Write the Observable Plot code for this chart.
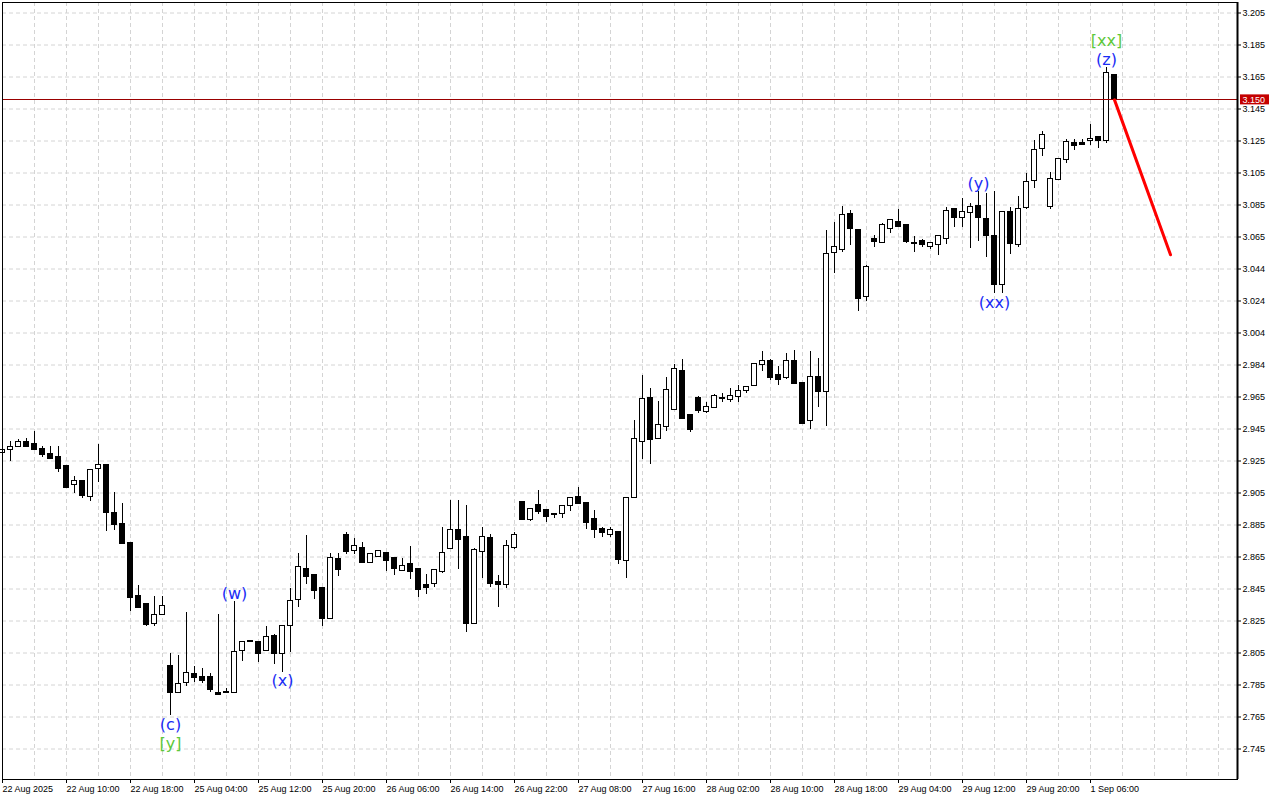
<!DOCTYPE html>
<html><head><meta charset="utf-8">
<script src="https://cdn.jsdelivr.net/npm/d3@7"></script>
<script src="https://cdn.jsdelivr.net/npm/@observablehq/plot@0.6"></script>
<style>html,body{margin:0;padding:0;background:#fff;} #chart svg{display:block}</style>
</head><body><div id="chart"></div>
<script>
const open = [2.9305,2.9320,2.9339,2.9366,2.9353,2.9322,2.9291,2.9272,2.9216,2.9101,
2.9122,2.9030,2.9201,2.9220,2.8920,2.8853,2.8736,2.8403,2.8353,2.8232,
2.8289,2.7966,2.7801,2.7864,2.7914,2.7895,2.7895,2.7797,2.7801,2.7801,
2.8064,2.8122,2.8118,2.8064,2.8151,2.8045,2.8220,2.8383,2.8570,2.8533,
2.8453,2.8268,2.8633,2.8783,2.8689,2.8701,2.8614,2.8651,2.8672,2.8639,
2.8568,2.8601,2.8570,2.8470,2.8483,2.8561,2.8701,2.8814,2.8770,2.8232,
2.8683,2.8764,2.8489,2.8480,2.8711,2.8989,2.8886,2.8970,2.8939,2.8914,
2.8920,2.8970,2.9020,2.8983,2.8883,2.8822,2.8789,2.8801,2.8628,2.9020,
2.9370,2.9639,2.9389,2.9464,2.9570,2.9808,2.9533,2.9639,2.9561,2.9586,
2.9639,2.9633,2.9651,2.9689,2.9722,2.9851,2.9870,2.9783,2.9770,2.9870,
2.9734,2.9501,2.9770,2.9686,3.0551,3.0570,3.0789,3.0689,3.0280,3.0633,
3.0616,3.0703,3.0739,3.0722,3.0609,3.0620,3.0589,3.0601,3.0639,3.0820,
3.0770,3.0801,3.0839,3.0758,3.0651,3.0351,3.0806,3.0601,3.0833,3.1001,
3.1201,3.0839,3.1008,3.1133,3.1233,3.1236,3.1251,3.1270,3.1251,3.1657];
const high = [2.9325,2.9372,2.9384,2.9389,2.9434,2.9341,2.9341,2.9341,2.9222,2.9153,
2.9122,2.9189,2.9353,2.9220,2.9053,2.8984,2.8736,2.8472,2.8353,2.8405,
2.8405,2.8049,2.8032,2.8303,2.7966,2.7953,2.7920,2.8291,2.7830,2.8372,
2.8118,2.8122,2.8118,2.8218,2.8166,2.8214,2.8453,2.8672,2.8786,2.8541,
2.8453,2.8672,2.8670,2.8803,2.8766,2.8739,2.8664,2.8689,2.8672,2.8639,
2.8641,2.8716,2.8570,2.8539,2.8570,2.8834,2.9003,2.9003,2.8972,2.8701,
2.8832,2.8789,2.8533,2.8751,2.8801,2.8989,2.8949,2.9064,2.8939,2.8914,
2.8964,2.9018,2.9084,2.8983,2.8939,2.8836,2.8832,2.8801,2.9018,2.9503,
2.9784,2.9701,2.9620,2.9772,2.9853,2.9884,2.9533,2.9653,2.9616,2.9664,
2.9670,2.9701,2.9722,2.9708,2.9851,2.9933,2.9883,2.9839,2.9920,2.9939,
2.9734,2.9934,2.9891,3.0691,3.0741,3.0841,3.0816,3.0689,3.0470,3.0658,
3.0733,3.0751,3.0820,3.0722,3.0651,3.0633,3.0607,3.0651,3.0833,3.0820,
3.0889,3.0858,3.0933,3.0920,3.0933,3.0801,3.0833,3.0902,3.1050,3.1253,
3.1311,3.1051,3.1133,3.1258,3.1258,3.1258,3.1351,3.1270,3.1707,3.1657];
const low = [2.9297,2.9249,2.9339,2.9341,2.9320,2.9270,2.9264,2.9180,2.9086,2.9049,
2.9018,2.8999,2.9118,2.8811,2.8816,2.8730,2.8311,2.8330,2.8216,2.8216,
2.8289,2.7659,2.7801,2.7843,2.7864,2.7861,2.7801,2.7784,2.7801,2.7801,
2.7997,2.8122,2.7993,2.8064,2.7980,2.7930,2.8051,2.8336,2.8480,2.8386,
2.8218,2.8261,2.8530,2.8664,2.8668,2.8611,2.8614,2.8651,2.8561,2.8536,
2.8561,2.8511,2.8399,2.8414,2.8461,2.8549,2.8701,2.8570,2.8180,2.8232,
2.8518,2.8461,2.8333,2.8451,2.8699,2.8883,2.8870,2.8918,2.8868,2.8889,
2.8889,2.8936,2.8983,2.8820,2.8764,2.8770,2.8770,2.8601,2.8514,2.9020,
2.9259,2.9230,2.9389,2.9433,2.9570,2.9518,2.9428,2.9549,2.9549,2.9580,
2.9618,2.9618,2.9618,2.9670,2.9722,2.9808,2.9751,2.9720,2.9758,2.9730,
2.9483,2.9449,2.9586,2.9466,3.0420,3.0551,3.0599,3.0186,3.0249,3.0586,
3.0607,3.0670,3.0718,3.0607,3.0556,3.0583,3.0570,3.0533,3.0601,3.0708,
3.0708,3.0580,3.0620,3.0520,3.0295,3.0295,3.0539,3.0583,3.0819,3.0951,
3.1155,3.0820,3.1001,3.1108,3.1189,3.1220,3.1220,3.1201,3.1233,3.1507];
const close = [2.9316,2.9334,2.9366,2.9341,2.9320,2.9289,2.9267,2.9201,2.9086,2.9120,
2.9036,2.9189,2.9220,2.8930,2.8851,2.8736,2.8399,2.8336,2.8231,2.8282,
2.8341,2.7801,2.7851,2.7920,2.7899,2.7878,2.7820,2.7793,2.7801,2.8051,
2.8118,2.8122,2.8049,2.8149,2.8049,2.8214,2.8370,2.8583,2.8530,2.8439,
2.8268,2.8639,2.8570,2.8686,2.8714,2.8618,2.8664,2.8683,2.8630,2.8580,
2.8589,2.8561,2.8449,2.8461,2.8566,2.8672,2.8818,2.8761,2.8232,2.8689,
2.8770,2.8486,2.8480,2.8718,2.8783,2.8883,2.8949,2.8936,2.8901,2.8914,
2.8964,2.9018,2.8983,2.8868,2.8820,2.8801,2.8814,2.8633,2.9018,2.9383,
2.9633,2.9383,2.9470,2.9689,2.9820,2.9518,2.9449,2.9568,2.9583,2.9651,
2.9639,2.9651,2.9683,2.9708,2.9851,2.9870,2.9770,2.9758,2.9870,2.9736,
2.9486,2.9770,2.9686,3.0539,3.0583,3.0783,3.0701,3.0268,3.0458,3.0620,
3.0720,3.0751,3.0718,3.0620,3.0609,3.0601,3.0607,3.0651,3.0808,3.0770,
3.0801,3.0833,3.0770,3.0658,3.0351,3.0801,3.0607,3.0820,3.0988,3.1189,
3.1283,3.1008,3.1133,3.1239,3.1220,3.1230,3.1261,3.1251,3.1670,3.1507];

const xTickBars = [0,8,16,24,32,40,48,56,64,72,80,88,96,104,112,120,128,136];
const xTickLabels = ["22 Aug 2025","22 Aug 10:00","22 Aug 18:00","25 Aug 04:00","25 Aug 12:00","25 Aug 20:00",
  "26 Aug 06:00","26 Aug 14:00","26 Aug 22:00","27 Aug 08:00","27 Aug 16:00","28 Aug 02:00",
  "28 Aug 10:00","28 Aug 18:00","29 Aug 04:00","29 Aug 12:00","29 Aug 20:00","1 Sep 06:00"];
const yTickValues = [3.205,3.185,3.165,3.145,3.125,3.105,3.085,3.065,3.045,3.025,3.005,2.985,
  2.965,2.945,2.925,2.905,2.885,2.865,2.845,2.825,2.805,2.785,2.765,2.745];
const yTickLabels = ["3.205","3.185","3.165","3.145","3.125","3.105","3.085","3.065","3.044","3.024","3.004","2.984",
  "2.965","2.945","2.925","2.905","2.885","2.865","2.845","2.825","2.805","2.785","2.765","2.745"];

const waveText  = ["(c)","[y]","(w)","(x)","(y)","(xx)","(z)","[xx]"];
const waveBar   = [21,21,29,35,122,124,138,138];
const waveSide  = ["below","below","above","below","above","below","above","above"];
const waveRow   = [0,1,0,0,0,0,0,1];
const waveKind  = ["blue","green","blue","blue","blue","blue","blue","green"];

const forecastBars = [139,146];
const forecastPrices = [3.1507,3.0539];
const lastPrice = 3.1507;
const lastPriceLabel = "3.150";

const BLUE = "#1a2cf5", GREEN = "#5cc83a";
const candles = open.map((o,i)=>({i, o, h: high[i], l: low[i], c: close[i]}));
const waves = waveText.map((t,k)=>({t, i: waveBar[k], side: waveSide[k], row: waveRow[k],
  p: waveSide[k]==="above" ? high[waveBar[k]] : low[waveBar[k]],
  col: waveKind[k]==="blue" ? BLUE : GREEN}));
const forecast = forecastBars.map((b,k)=>({i:b, p:forecastPrices[k]}));
const xLab = new Map(xTickBars.map((b,k)=>[b,xTickLabels[k]]));
const yLab = new Map(yTickValues.map((v,k)=>[v,yTickLabels[k]]));
const X0 = 0, X1 = 154.375;

const waveMark = (side,row,dy) => Plot.text(waves.filter(w=>w.side===side && w.row===row), {
  x:"i", y:"p", text:"t", fill:"col", dy, lineAnchor:"middle", textAnchor:"middle",
  fontSize:16, fontFamily:"'DejaVu Sans', sans-serif"});

const chart = Plot.plot({
  width:1280, height:800,
  marginTop:2, marginBottom:21, marginLeft:2, marginRight:43,
  x:{domain:[X0,X1]},
  y:{domain:[2.7259375,3.2115625]},
  style:{fontFamily:"'Liberation Sans', Arial, sans-serif", fontSize:"9px", background:"#fff", color:"#000"},
  marks:[
    Plot.gridX(d3.range(0,155,4), {stroke:"#d4d4d4", strokeOpacity:1, strokeDasharray:"4,3"}),
    Plot.gridY(yTickValues, {stroke:"#d4d4d4", strokeOpacity:1, strokeDasharray:"4,3"}),
    Plot.ruleX(candles, {x:"i", y1:"l", y2:"h", stroke:"#000", strokeWidth:1, shapeRendering:"crispEdges"}),
    Plot.rect(candles, {x1:d=>d.i-0.3125, x2:d=>d.i+0.3125,
      y1:d=>Math.min(d.o,d.c), y2:d=>Math.max(d.o,d.c),
      fill:d=>d.c>d.o?"#fff":"#000", stroke:"#000", strokeWidth:1,
      insetTop:-0.5, insetBottom:-0.5, shapeRendering:"crispEdges"}),
    Plot.ruleY([lastPrice], {stroke:"#9a0000", strokeWidth:1, shapeRendering:"crispEdges"}),
    Plot.line(forecast, {x:"i", y:"p", stroke:"#ff0000", strokeWidth:3}),
    waveMark("above",0,-8), waveMark("above",1,-27),
    waveMark("below",0,9), waveMark("below",1,28),
    Plot.frame({stroke:"#000"}),
    Plot.ruleX([X1], {stroke:"#000", strokeWidth:2}),
    Plot.axisY(yTickValues, {anchor:"right", tickSize:3, tickPadding:2, label:null,
      tickFormat:d=>yLab.get(d), fontSize:9}),
    Plot.axisX(xTickBars, {anchor:"bottom", tickSize:4, tickPadding:2, label:null,
      tickFormat:d=>xLab.get(d), textAnchor:"start", fontSize:9}),
    Plot.rect([lastPrice], {x1:X1, x2:X1, y1:d=>d, y2:d=>d,
      insetLeft:3, insetRight:-32, insetTop:-5, insetBottom:-5, fill:"#c40000"}),
    Plot.text([lastPrice], {x:X1, y:d=>d, text:()=>lastPriceLabel, dx:5, textAnchor:"start",
      fill:"#fff", fontSize:9})
  ]
});
document.getElementById("chart").appendChild(chart);
</script>
</body></html>
